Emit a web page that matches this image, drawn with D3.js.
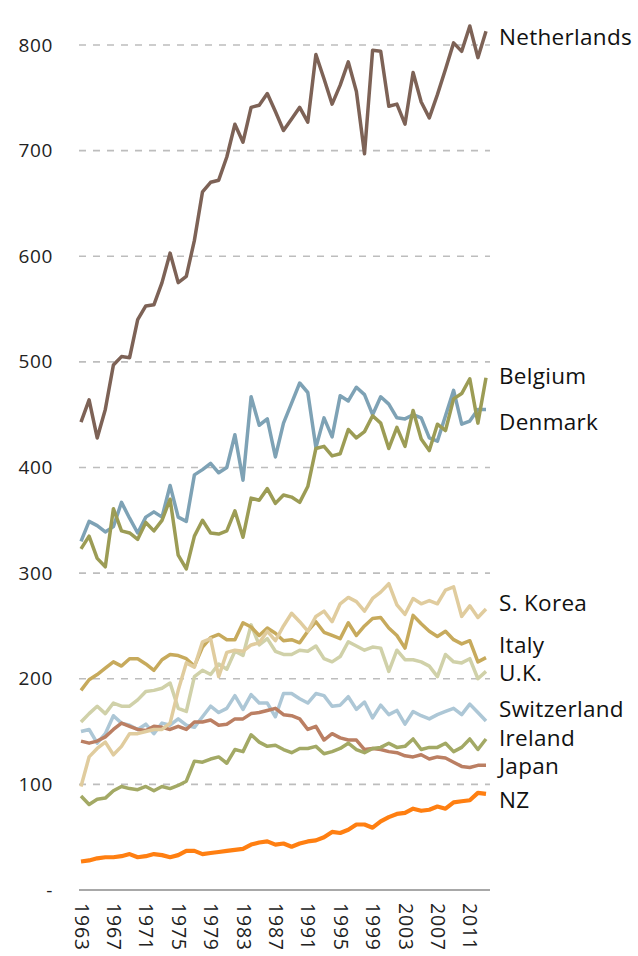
<!DOCTYPE html>
<html>
<head>
<meta charset="utf-8">
<script src="https://cdn.jsdelivr.net/npm/d3@7/dist/d3.min.js"></script>
<style>
  html, body { margin: 0; padding: 0; background: #fff; }
  svg { display: block; font-family: "Open Sans", Lato, sans-serif; }
</style>
</head>
<body>
<svg id="chart" width="638" height="956"></svg>
<script>
// Years covered by every series
const years = d3.range(1963, 2014);

// Tick values
const yTicks = [0, 100, 200, 300, 400, 500, 600, 700, 800];
const xTicks = d3.range(1963, 2012, 4);

// Series values, one per year 1963–2013
const netherlands = [443,464,428,455,497,505,504,540,553,554,575,603,575,581,615,661,670,672,694,725,708,741,743,754,737,719,730,741,727,791,768,744,762,784,756,697,795,794,742,744,725,774,746,731,753,777,802,794,818,788,813];
const denmark = [330,349,345,339,344,367,352,338,353,358,353,383,353,349,393,398,404,395,400,431,388,467,440,446,410,442,461,480,471,419,447,429,468,463,476,469,450,467,460,447,446,450,447,428,425,449,473,441,444,455,455];
const belgium = [323,335,314,306,361,340,338,332,348,340,350,370,317,304,335,350,338,337,340,359,334,371,369,380,366,374,372,367,382,418,420,411,413,436,428,434,449,442,418,438,420,454,427,416,441,435,465,470,484,442,485];
const sKorea = [98,126,134,140,128,136,148,148,150,152,152,158,189,215,211,235,238,202,225,227,226,232,234,245,236,250,262,254,245,259,264,254,271,277,273,264,276,282,290,270,261,276,271,274,271,284,287,259,269,258,266];
const italy = [189,199,204,210,216,212,219,219,214,208,218,223,222,219,212,230,239,242,237,237,253,249,241,248,243,236,237,234,245,254,244,241,238,253,241,250,257,258,248,241,229,260,252,245,240,245,237,233,236,216,220];
const uk = [159,167,174,167,177,174,174,180,188,189,191,196,172,169,202,208,204,214,209,226,222,251,232,238,226,223,223,227,226,231,219,216,221,235,231,227,230,229,207,227,218,218,216,212,202,223,216,215,219,200,207];
const switzerland = [150,152,139,148,165,158,156,152,157,148,158,156,162,156,154,164,174,168,172,184,171,185,177,177,164,186,186,181,177,186,184,174,175,183,171,178,163,175,166,170,157,169,165,162,166,169,172,166,176,168,160];
const ireland = [89,81,86,87,94,98,96,95,98,94,98,96,99,103,122,121,124,126,120,133,131,147,140,136,137,133,130,134,134,136,129,131,134,139,133,130,134,135,139,135,136,143,133,135,135,139,131,135,143,133,143];
const japan = [141,139,141,145,152,158,155,152,151,155,154,152,155,152,159,159,161,156,157,162,162,167,168,170,172,166,165,162,152,155,142,148,144,142,142,133,134,133,131,130,127,126,128,124,126,125,121,117,116,118,118];
const nz = [27,28,30,31,31,32,34,31,32,34,33,31,33,37,37,34,35,36,37,38,39,43,45,46,43,44,41,44,46,47,50,55,54,57,62,62,59,65,69,72,73,77,75,76,79,77,83,84,85,92,91];

// Drawing order (back to front), colours and end-label nudges in px
const series = [
  { name: "Denmark",     values: denmark,     color: "#7ea2b5", width: 3.5, nudge: 13 },
  { name: "Belgium",     values: belgium,     color: "#9c9c55", width: 3.5, nudge: -2 },
  { name: "U.K.",        values: uk,          color: "#d0d1a9", width: 3.5, nudge: 2 },
  { name: "Switzerland", values: switzerland, color: "#adc7d6", width: 3.5, nudge: -12 },
  { name: "Japan",       values: japan,       color: "#bb7f63", width: 3.5, nudge: 1 },
  { name: "Ireland",     values: ireland,     color: "#a3a965", width: 3.5, nudge: -1 },
  { name: "Italy",       values: italy,       color: "#c7aa5c", width: 3.5, nudge: -13 },
  { name: "S. Korea",    values: sKorea,      color: "#e0cc9e", width: 3.5, nudge: -6 },
  { name: "Netherlands", values: netherlands, color: "#7d6256", width: 3.5, nudge: 6 },
  { name: "NZ",          values: nz,          color: "#ff7f11", width: 4.2, nudge: 6 }
];

const svg = d3.select("#chart");

const x = d3.scaleLinear().domain([1963, 2013]).range([81, 486]);
const y = d3.scaleLinear().domain([0, 800]).range([890, 45]);

const gridLeft = 79, gridRight = 490;

// Dashed horizontal gridlines
svg.append("g")
  .selectAll("line")
  .data(yTicks.filter(d => d > 0))
  .join("line")
  .attr("x1", gridLeft).attr("x2", gridRight)
  .attr("y1", d => y(d)).attr("y2", d => y(d))
  .attr("stroke", "#bdbdbd")
  .attr("stroke-width", 1.6)
  .attr("stroke-dasharray", "7,7");

// Baseline
svg.append("line")
  .attr("x1", gridLeft).attr("x2", gridRight)
  .attr("y1", y(0)).attr("y2", y(0))
  .attr("stroke", "#a8a8a8")
  .attr("stroke-width", 1.8);

// Y axis labels
const yAxis = d3.axisLeft(y)
  .tickValues(yTicks)
  .tickSize(0)
  .tickPadding(0)
  .tickFormat(d => d === 0 ? "-" : d3.format("d")(d));

const gy = svg.append("g")
  .attr("transform", "translate(53,0)")
  .call(yAxis);
gy.select(".domain").remove();
gy.selectAll("text")
  .attr("font-size", 19)
  .attr("letter-spacing", 0.6)
  .attr("font-family", "'Open Sans', Lato, sans-serif")
  .attr("fill", "#222");

// X axis labels, rotated to read top to bottom
const xAxis = d3.axisBottom(x)
  .tickValues(xTicks)
  .tickSize(0)
  .tickFormat(d3.format("d"));

const gx = svg.append("g")
  .attr("transform", `translate(0,${y(0) + 13})`)
  .call(xAxis);
gx.select(".domain").remove();
gx.selectAll("text")
  .attr("font-size", 19.5)
  .attr("letter-spacing", 0.8)
  .attr("font-family", "'Open Sans', Lato, sans-serif")
  .attr("fill", "#222")
  .attr("transform", "rotate(90)")
  .attr("text-anchor", "start")
  .attr("x", 0)
  .attr("y", 0)
  .attr("dy", "0.35em");

// Lines
const line = d3.line()
  .x((d, i) => x(years[i]))
  .y(d => y(d));

svg.append("g")
  .selectAll("path")
  .data(series)
  .join("path")
  .attr("d", d => line(d.values))
  .attr("fill", "none")
  .attr("stroke", d => d.color)
  .attr("stroke-width", d => d.width)
  .attr("stroke-linejoin", "round");

// End labels
svg.append("g")
  .selectAll("text")
  .data(series)
  .join("text")
  .attr("x", 499)
  .attr("y", d => y(d.values[d.values.length - 1]) + d.nudge)
  .attr("dy", "0.35em")
  .attr("font-size", 22.5)
  .attr("letter-spacing", 0.3)
  .attr("fill", "#111")
  .text(d => d.name);
</script>
</body>
</html>
